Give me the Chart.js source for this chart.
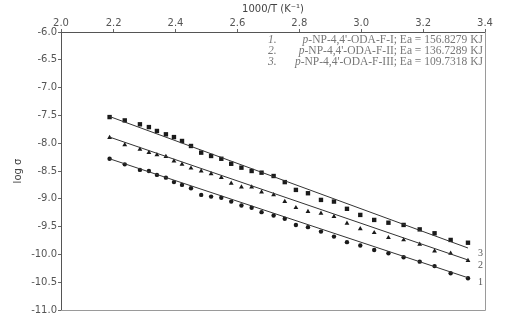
<!DOCTYPE html>
<html>
<head>
<meta charset="utf-8">
<script src="https://cdn.jsdelivr.net/npm/chart.js@4.4.1/dist/chart.umd.min.js"></script>
<style>
    html, body { margin: 0; padding: 0; background: #fff; }
    #wrap { width: 516px; height: 320px; position: relative; }
</style>
</head>
<body>
<div id="wrap"><canvas id="arrheniusChart"></canvas></div>
<script>
// Données (1000/T en K^-1, log sigma)
const xValues = [2.187, 2.236, 2.285, 2.314, 2.340, 2.369, 2.395, 2.421, 2.450, 2.483, 2.515,
    2.548, 2.580, 2.613, 2.646, 2.678, 2.717, 2.753, 2.789, 2.828, 2.870, 2.912, 2.954,
    2.997, 3.042, 3.088, 3.137, 3.189, 3.237, 3.289, 3.345];

// Série 1 : cercles
const series1 = [-8.28, -8.38, -8.48, -8.50, -8.57, -8.62, -8.70, -8.75, -8.81, -8.93, -8.96,
    -8.98, -9.05, -9.12, -9.16, -9.24, -9.30, -9.36, -9.47, -9.51, -9.59, -9.68, -9.78,
    -9.84, -9.92, -9.98, -10.05, -10.13, -10.21, -10.34, -10.43];

// Série 2 : triangles
const series2 = [-7.90, -8.03, -8.11, -8.17, -8.21, -8.24, -8.32, -8.38, -8.45, -8.50, -8.55,
    -8.62, -8.72, -8.79, -8.79, -8.88, -8.93, -9.05, -9.16, -9.23, -9.26, -9.32, -9.44,
    -9.54, -9.61, -9.70, -9.74, -9.82, -9.94, -9.98, -10.11];

// Série 3 : carrés
const series3 = [-7.53, -7.59, -7.66, -7.71, -7.78, -7.84, -7.89, -7.96, -8.05, -8.17, -8.23,
    -8.28, -8.37, -8.44, -8.50, -8.53, -8.59, -8.70, -8.84, -8.90, -9.02, -9.05, -9.18,
    -9.29, -9.38, -9.43, -9.47, -9.55, -9.62, -9.74, -9.79];

// Droites d'ajustement (extrémités)
const fitX = [2.187, 3.345];
const fit1 = [-8.28, -10.42];
const fit2 = [-7.89, -10.10];
const fit3 = [-7.52, -9.885];

const xTicks = [2.0, 2.2, 2.4, 2.6, 2.8, 3.0, 3.2, 3.4];
const legendLines = [
    ['1.', 'NP-4,4\'-ODA-F-I; Ea = 156.8279 KJ'],
    ['2.', 'NP-4,4\'-ODA-F-II; Ea = 136.7289 KJ'],
    ['3.', 'NP-4,4\'-ODA-F-III; Ea = 109.7318 KJ']
];
const seriesNames = ['1', '2', '3'];

const xMin = 2.03;
const xMax = 3.4;

function toPoints(xs, ys) {
    return xs.map((x, i) => ({ x: x, y: ys[i] }));
}

// Cadre, légende et numéros des droites
const annotations = {
    id: 'annotations',
    afterDatasetsDraw(chart) {
        const { ctx, chartArea, scales } = chart;
        ctx.save();
        ctx.strokeStyle = '#9a9a9a';
        ctx.lineWidth = 1;
        ctx.beginPath();
        ctx.moveTo(chartArea.right + 0.5, chartArea.top);
        ctx.lineTo(chartArea.right + 0.5, chartArea.bottom + 0.5);
        ctx.lineTo(chartArea.left, chartArea.bottom + 0.5);
        ctx.stroke();

        // Légende en haut à droite
        ctx.fillStyle = '#777';
        ctx.textBaseline = 'middle';
        legendLines.forEach(([num, txt], i) => {
            const y = chartArea.top + 8 + i * 11;
            ctx.font = 'italic 11.5px "Liberation Serif"';
            ctx.textAlign = 'left';
            ctx.fillText(num, 268, y);
            ctx.font = '11.5px "Liberation Serif"';
            ctx.textAlign = 'right';
            ctx.fillText(txt, chartArea.right - 2, y);
            const w = ctx.measureText(txt).width;
            ctx.font = 'italic 11.5px "Liberation Serif"';
            ctx.fillText('p-', chartArea.right - 2 - w, y);
        });

        // Numéros à droite des droites
        const ends = [fit1[1], fit2[1], fit3[1]];
        ctx.font = '10px "Liberation Serif"';
        ctx.textAlign = 'left';
        ctx.fillStyle = '#555';
        ends.forEach((v, i) => {
            const px = scales.x.getPixelForValue(fitX[1]) + 10;
            const py = scales.y.getPixelForValue(v) + 5;
            ctx.fillText(seriesNames[i], px, py);
        });
        ctx.restore();
    }
};

const fitStyle = {
    type: 'line',
    showLine: true,
    pointRadius: 0,
    borderColor: '#333',
    borderWidth: 1,
    fill: false
};

new Chart(document.getElementById('arrheniusChart'), {
    type: 'scatter',
    data: {
        datasets: [
            Object.assign({ label: 'fit1', data: toPoints(fitX, fit1) }, fitStyle),
            Object.assign({ label: 'fit2', data: toPoints(fitX, fit2) }, fitStyle),
            Object.assign({ label: 'fit3', data: toPoints(fitX, fit3) }, fitStyle),
            {
                label: '1',
                data: toPoints(xValues, series1),
                pointStyle: 'circle',
                pointRadius: 2.2,
                backgroundColor: '#1a1a1a',
                borderColor: '#1a1a1a',
                borderWidth: 0
            },
            {
                label: '2',
                data: toPoints(xValues, series2),
                pointStyle: 'triangle',
                pointRadius: 2.8,
                backgroundColor: '#1a1a1a',
                borderColor: '#1a1a1a',
                borderWidth: 0
            },
            {
                label: '3',
                data: toPoints(xValues, series3),
                pointStyle: 'rect',
                pointRadius: 3.1,
                backgroundColor: '#1a1a1a',
                borderColor: '#1a1a1a',
                borderWidth: 0
            }
        ]
    },
    options: {
        responsive: true,
        maintainAspectRatio: false,
        animation: false,
        layout: {
            padding: { left: 0, top: 0, right: 31, bottom: 10 }
        },
        plugins: {
            legend: { display: false },
            tooltip: { enabled: false }
        },
        scales: {
            x: {
                type: 'linear',
                position: 'top',
                min: xMin,
                max: xMax,
                afterBuildTicks(scale) {
                    scale.ticks = xTicks.map(v => ({ value: Math.max(v, xMin) }));
                },
                afterFit(scale) {
                    scale.height = 32;
                },
                title: {
                    display: true,
                    text: '1000/T (K\u207B\u00B9)',
                    color: '#444',
                    font: { family: 'DejaVu Sans', size: 10 },
                    padding: { top: 3, bottom: 0 }
                },
                ticks: {
                    color: '#555',
                    font: { family: 'DejaVu Sans', size: 10 },
                    padding: 0,
                    maxRotation: 0,
                    callback: v => v.toFixed(1)
                },
                grid: {
                    display: true,
                    drawOnChartArea: false,
                    drawTicks: true,
                    tickLength: 3,
                    color: '#666'
                },
                border: { display: true, color: '#555', width: 1 }
            },
            y: {
                type: 'linear',
                position: 'left',
                min: -11,
                max: -6,
                afterFit(scale) {
                    scale.width = 61;
                },
                title: {
                    display: true,
                    text: 'log \u03C3',
                    color: '#444',
                    font: { family: 'DejaVu Sans', size: 10 },
                    padding: { top: 12, bottom: 0 }
                },
                ticks: {
                    stepSize: 0.5,
                    color: '#555',
                    font: { family: 'DejaVu Sans', size: 10 },
                    padding: 1,
                    callback: v => v.toFixed(1)
                },
                grid: {
                    display: true,
                    drawOnChartArea: false,
                    drawTicks: true,
                    tickLength: 3,
                    color: '#666'
                },
                border: { display: true, color: '#555', width: 1 }
            }
        }
    },
    plugins: [annotations]
});
</script>
</body>
</html>
